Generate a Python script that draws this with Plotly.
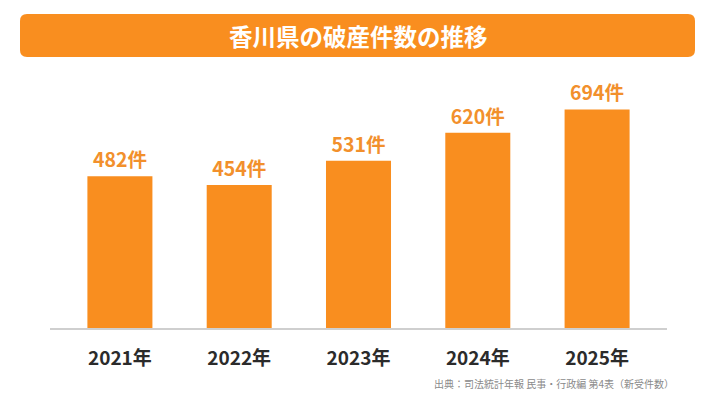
import plotly.graph_objects as go

categories = ["2021年", "2022年", "2023年", "2024年", "2025年"]
values = [482, 454, 531, 620, 694]
labels = [f"{v}件" for v in values]
title_text = "香川県の破産件数の推移"
source_text = "出典：司法統計年報 民事・行政編 第4表（新受件数）"

OFF = 8  # page body margin
W, H = 716 - OFF, 403 - OFF
# screen coordinates of plot area
SL, SR, ST, SB = 50, 667, 76, 328
ML, MT = SL - OFF, ST - OFF
MR = W - (SR - OFF)
MB = H - (SB - OFF)
PW = SR - SL
PH = SB - ST

FONT = "Noto Sans CJK JP"
BAR = "#F98E1F"
TXT = "#F2902C"

def px2paper(x, y):
    return (x - SL) / PW, (SB - y) / PH

fig = go.Figure()
fig.add_trace(go.Bar(
    x=categories, y=values, text=labels, textposition="outside",
    textfont=dict(family=FONT, size=19.5, color=TXT, weight="bold"),
    marker=dict(color=BAR, line=dict(width=0)),
    cliponaxis=False, hoverinfo="skip",
))

# rounded banner
x0, y0, x1, y1, r = 20, 14, 695, 57, 7
def P(x, y):
    a, b = px2paper(x, y)
    return f"{a:.5f},{b:.5f}"
path = (f"M {P(x0+r,y0)} L {P(x1-r,y0)} Q {P(x1,y0)} {P(x1,y0+r)} "
        f"L {P(x1,y1-r)} Q {P(x1,y1)} {P(x1-r,y1)} L {P(x0+r,y1)} "
        f"Q {P(x0,y1)} {P(x0,y1-r)} L {P(x0,y0+r)} Q {P(x0,y0)} {P(x0+r,y0)} Z")
fig.add_shape(type="path", path=path, xref="paper", yref="paper",
              fillcolor=BAR, line=dict(width=0), layer="below")

tx, ty = px2paper(358, 36)
fig.add_annotation(x=tx, y=ty, xref="paper", yref="paper", text=title_text,
                   showarrow=False, xanchor="center", yanchor="middle",
                   font=dict(family=FONT, size=23.5, color="white", weight="bold"))

sx, sy = px2paper(676, 383)
fig.add_annotation(x=sx, y=sy, xref="paper", yref="paper", text=source_text,
                   showarrow=False, xanchor="right", yanchor="middle",
                   font=dict(family=FONT, size=10, color="#8a8a8a"))

fig.update_layout(
    width=W, height=H, margin=dict(l=ML, r=MR, t=MT, b=MB),
    paper_bgcolor="white", plot_bgcolor="white", showlegend=False,
    bargap=0.455,
    xaxis=dict(range=[-0.586, 4.586], showgrid=False, zeroline=False,
               showline=True, linecolor="#cfcfcf", linewidth=1.5,
               ticks="", ticklabelstandoff=12,
               tickfont=dict(family=FONT, size=19, color="#2b2b2b", weight="bold"),
               fixedrange=True),
    yaxis=dict(range=[0, 800], visible=False, fixedrange=True),
)

fig.write_html("out.html", config={"displayModeBar": False})
